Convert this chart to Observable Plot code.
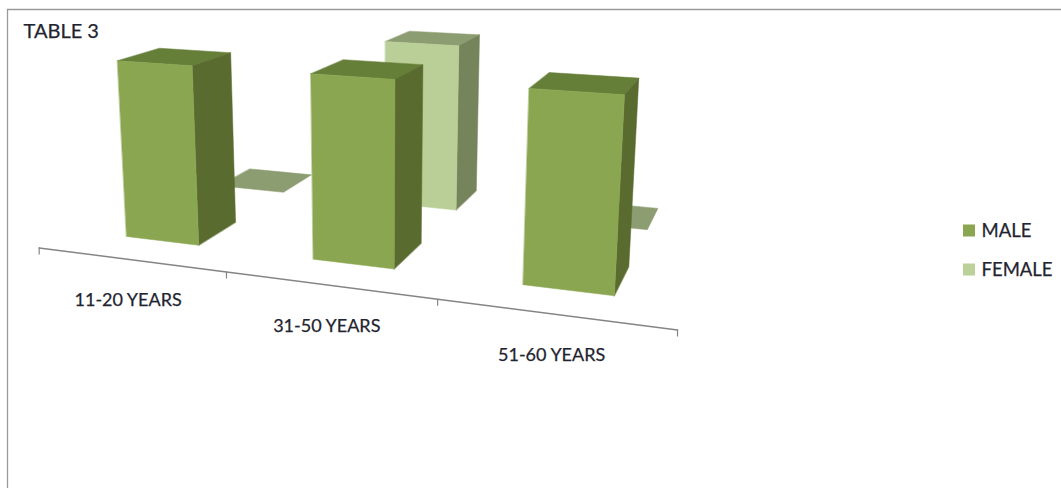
<!DOCTYPE html><html><head><meta charset="utf-8">
<style>html,body{margin:0;padding:0;background:#fff;overflow:hidden}svg{display:block}</style>
<script src="https://cdn.jsdelivr.net/npm/d3@7"></script>
<script src="https://cdn.jsdelivr.net/npm/@observablehq/plot@0.6"></script></head><body><div id="chart"></div>
<script>
// Data
const categories = ["11-20 YEARS", "31-50 YEARS", "51-60 YEARS"];
const seriesNames = ["MALE", "FEMALE"];
const male = [100, 100, 100];
const female = [0, 100, 0];
const titleText = "TABLE 3";

// Styles
const palette = {
  MALE: {front: "#8aa650", side: "#5a6b30", top: "#667f38", key: "#8aa650"},
  FEMALE: {front: "#b9cf97", side: "#76845c", top: "#8c9d71", key: "#bcd09a"}
};
const font = "Lato, Carlito, sans-serif";
const textColor = "#1f2430";
const textStyle = {fontFamily: font, fill: textColor, stroke: textColor, strokeWidth: 0.25};

// Camera fitted to the picture: category slot X, value Y, series depth Z -> pixels
const cam = [174.49823, -13.6003, 128.9262, 38.70318, 8.73989, -183.03922, -23.79494, 247.40498, -0.05654, -0.03625, 0.15387];
const project = (X, Y, Z) => {
  const w = cam[8] * X + cam[9] * Y + cam[10] * Z + 1;
  return [(cam[0] * X + cam[1] * Y + cam[2] * Z + cam[3]) / w, (cam[4] * X + cam[5] * Y + cam[6] * Z + cam[7]) / w];
};
const gap = 0.3, maxValue = 100;

function box(cat, depth, value, name) {
  const [l, r] = [cat + gap, cat + 1 - gap], [f, b] = [depth + gap, depth + 1 - gap], t = value / maxValue;
  const c = palette[name], id = `${name}-${cat}`;
  const face = (part, fill, corners) => corners.map(([X, Y, Z]) => {
    const [px, py] = project(X, Y, Z);
    return {face: `${id}-${part}`, fill, px, py};
  });
  const faces = face("top", c.top, [[l, t, f], [r, t, f], [r, t, b], [l, t, b]]);
  if (value > 0) faces.push(
    ...face("side", c.side, [[r, 0, f], [r, t, f], [r, t, b], [r, 0, b]]),
    ...face("front", c.front, [[l, 0, f], [r, 0, f], [r, t, f], [l, t, f]]));
  return faces;
}
const faces = [
  ...female.flatMap((v, i) => box(i, 1, v, "FEMALE")),
  ...male.flatMap((v, i) => box(i, 0, v, "MALE"))
];

const axisLine = [0, 1, 2, 3].map(i => {const [px, py] = project(i, 0, 0); return {px, py};});
const labels = categories.map((label, i) => {const [px, py] = project(i + 0.5, 0, 0); return {label, px: px - 2, py: py + 41};});
const legend = seriesNames.map((name, i) => ({name, fill: palette[name].key, y: 230.5 + i * 39}));

const chart = Plot.plot({
  width: 1061, height: 488, margin: 0,
  x: {type: "identity", axis: null}, y: {type: "identity", axis: null}, color: {type: "identity"},
  style: {background: "#fff"},
  marks: [
    Plot.ruleX([7], {y1: 9, y2: 488, stroke: "#9a9a9a", strokeWidth: 1.3}),
    Plot.ruleY([9], {x1: 7, x2: 1061, stroke: "#9a9a9a", strokeWidth: 1.3}),
    Plot.line(faces, {x: "px", y: "py", z: "face", fill: "fill", stroke: "fill", strokeWidth: 0.5, curve: "linear-closed"}),
    Plot.line(axisLine, {x: "px", y: "py", stroke: "#858585", strokeWidth: 1.5}),
    Plot.ruleX(axisLine, {x: "px", y1: "py", y2: d => d.py + 7, stroke: "#858585", strokeWidth: 1.2}),
    Plot.text(labels, {x: "px", y: "py", text: "label", fontSize: 18, ...textStyle}),
    Plot.text([titleText], {x: 23, y: 31, textAnchor: "start", fontSize: 20, ...textStyle}),
    Plot.rect(legend, {x1: 963, x2: 975, y1: d => d.y - 6, y2: d => d.y + 6, fill: "fill"}),
    Plot.text(legend, {x: 981, y: "y", text: "name", textAnchor: "start", fontSize: 18.5, ...textStyle})
  ]
});
document.getElementById("chart").append(chart);
</script></body></html>
